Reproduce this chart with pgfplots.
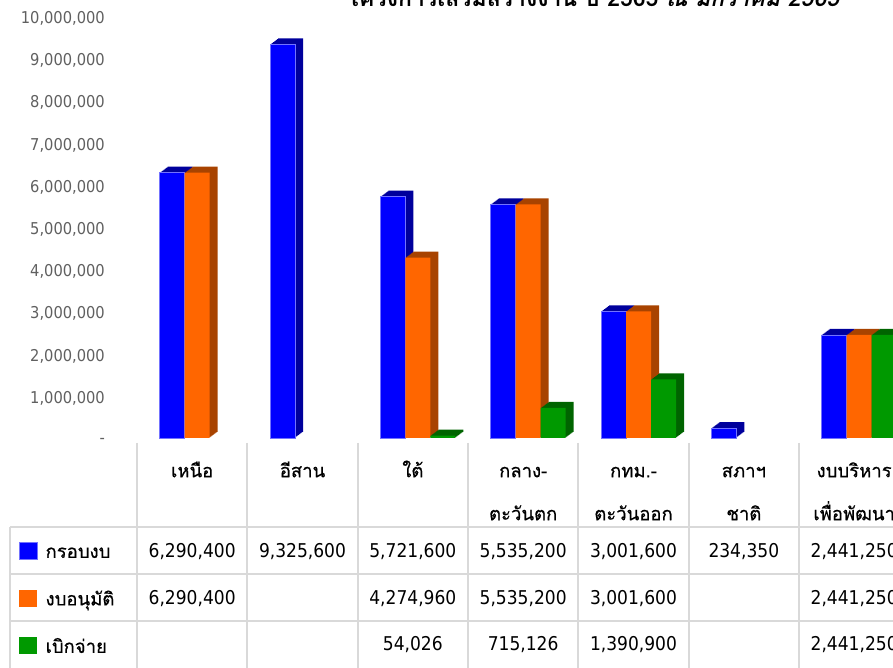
\documentclass[border=0pt]{standalone}
\usepackage{fontspec}
\usepackage{pgfplots}
\usepackage{pgfplotstable}
\pgfplotsset{compat=1.18}
\setmainfont{DejaVu Sans Condensed}
\newfontfamily\thaifont[Script=Thai,FakeBold=0.6]{Loma}
\newfontfamily\thaititle[Script=Thai]{Loma}
\newfontfamily\thaislant[Script=Thai,FakeSlant=0.2]{Loma}
\definecolor{cblue}{HTML}{0000FF}
\definecolor{sblue}{HTML}{00009C}
\definecolor{corange}{HTML}{FF6600}
\definecolor{sorange}{HTML}{A84300}
\definecolor{cgreen}{HTML}{009900}
\definecolor{sgreen}{HTML}{006400}
\definecolor{tickgray}{HTML}{606060}
\definecolor{gridgray}{HTML}{D9D9D9}

\pgfplotstableread{
x krob anumat bikjai
0 6290400 6290400 nan
1 9325600 nan nan
2 5721600 4274960 54026
3 5535200 5535200 715126
4 3001600 3001600 1390900
5 234350 nan nan
6 2441250 2441250 2441250
}\budget

\newcommand{\hs}{\rule{0pt}{20pt}}
\newcommand{\tnum}{\pgfmathprintnumber[fixed,precision=0,1000 sep={,},assume math mode=true]{\pgfplotspointmeta}}
\begin{document}
\begin{tikzpicture}[x=1pt,y=1pt]
\useasboundingbox (0,0) rectangle (893,668);
\begin{axis}[
  at={(137pt,230pt)}, anchor=south west,
  scale only axis, width=756pt, height=422pt,
  xmin=-0.5, xmax=6.352, ymin=0, ymax=10000000,
  clip=false,
  axis line style={draw=none},
  major tick length=0pt,
  tick style={draw=none},
  xtick={0,1,2,3,4,5,6},
  xticklabels={{\hs เหนือ},{\hs อีสาน},{\hs ใต้},{\hs กลาง-\\ตะวันตก},{\hs กทม.-\\ตะวันออก},{\hs สภาฯ\\ชาติ},{\hs งบบริหาร\\เพื่อพัฒนา}},
  xticklabel style={anchor=north, align=center, inner sep=0pt, yshift=-19pt,
    font=\thaifont\fontsize{18.5}{43}\selectfont, text=black},
  ytick={0,1000000,2000000,3000000,4000000,5000000,6000000,7000000,8000000,9000000,10000000},
  yticklabels={-,{1,000,000},{2,000,000},{3,000,000},{4,000,000},{5,000,000},{6,000,000},{7,000,000},{8,000,000},{9,000,000},{10,000,000}},
  scaled y ticks=false,
  yticklabel style={font=\fontsize{16.3}{18}\selectfont, text=tickgray, anchor=east, inner sep=0pt, xshift=-32pt, yshift=-2.5pt},
  bar width=25pt,
  legend style={
    at={(axis description cs:0,0)}, anchor=north west,
    xshift=-118pt, yshift=-104pt,
    draw=none, fill=none, inner sep=0pt,
    row sep=30pt,
    font=\thaifont\fontsize{18.5}{22}\selectfont,
    nodes={inner sep=0pt, text height=15pt, text depth=2pt},
    /tikz/every odd column/.append style={column sep=8pt},
  },
  legend cell align=left,
  legend image code/.code={\fill[#1] (0pt,-8pt) rectangle (18pt,9pt);},
  every node near coord/.style={anchor=base, inner sep=0pt, font=\fontsize{19}{22}\selectfont, text=black},
]
% series 1: กรอบงบ
\pgfplotsinvokeforeach{1,...,8}{
  \addplot[ybar, bar shift=-20pt, fill=sblue, draw=none, xshift=#1pt, yshift=0.75*#1pt, forget plot] table[x=x,y=krob]{\budget};
}
\addplot[ybar, bar shift=-20pt, fill=cblue, draw=cblue!55!white, line width=0.4pt] table[x=x,y=krob]{\budget};
\addlegendentry{กรอบงบ}
% series 2: งบอนุมัติ
\pgfplotsinvokeforeach{1,...,8}{
  \addplot[ybar, bar shift=5pt, fill=sorange, draw=none, xshift=#1pt, yshift=0.75*#1pt, forget plot] table[x=x,y=anumat]{\budget};
}
\addplot[ybar, bar shift=5pt, fill=corange, draw=none] table[x=x,y=anumat]{\budget};
\addlegendentry{งบอนุมัติ}
% series 3: เบิกจ่าย
\pgfplotsinvokeforeach{1,...,8}{
  \addplot[ybar, bar shift=30pt, fill=sgreen, draw=none, xshift=#1pt, yshift=0.75*#1pt, forget plot] table[x=x,y=bikjai]{\budget};
}
\addplot[ybar, bar shift=30pt, fill=cgreen, draw=none] table[x=x,y=bikjai]{\budget};
\addlegendentry{เบิกจ่าย}
% data table rows
\addplot[draw=none, mark=none, forget plot, point meta=explicit, nodes near coords={\tnum}]
  table[x=x, y expr=\thisrow{krob}*0-2820000, meta=krob]{\budget};
\addplot[draw=none, mark=none, forget plot, point meta=explicit, nodes near coords={\tnum}]
  table[x=x, y expr=\thisrow{anumat}*0-3934000, meta=anumat]{\budget};
\addplot[draw=none, mark=none, forget plot, point meta=explicit, nodes near coords={\tnum}]
  table[x=x, y expr=\thisrow{bikjai}*0-5047000, meta=bikjai]{\budget};
\end{axis}
% table grid
\foreach \i in {0,...,6} {
  \draw[gridgray, line width=2pt] ({137+110.33*\i},225) -- ({137+110.33*\i},0);
}
\foreach \yy in {141,94,47} {
  \draw[gridgray, line width=2pt] (10,\yy) -- (893,\yy);
}
\draw[gridgray, line width=2pt] (10,141) -- (10,0);
% title (cropped at top in the reference)
\node[overlay, anchor=base, text=black] at (593,661)
  {\thaititle\bfseries\fontsize{23}{27}\selectfont โครงการเสริมสร้างงาน ปี 2565 {\thaislant\bfseries ณ มกราคม 2565}};
\end{tikzpicture}
\end{document}
